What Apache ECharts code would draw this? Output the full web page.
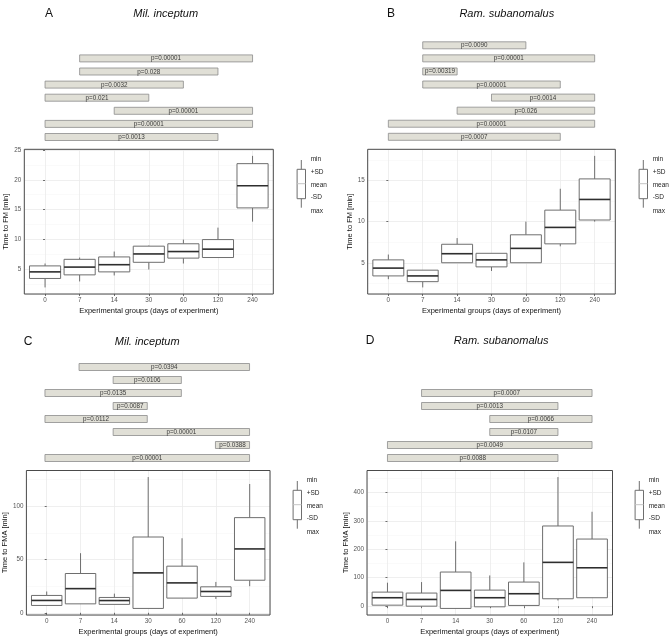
<!DOCTYPE html>
<html><head><meta charset="utf-8">
<script src="https://cdn.jsdelivr.net/npm/echarts@6/dist/echarts.min.js"></script>
<style>html,body{margin:0;padding:0;background:#fff}#c{width:672px;height:641px}</style>
</head><body><div id="c"></div>
<script>
const FONT = '"Liberation Sans", Arial, Helvetica, sans-serif';
const groups = ['0', '7', '14', '30', '60', '120', '240'];
const legendLabels = ['min', '+SD', 'mean', '-SD', 'max'];
const xTitle = 'Experimental groups (days of experiment)';

// Panel A — Mil. inceptum, time to FM [min]
const fmMilMin    = [2, 3, 4, 5, 6, 7, 13];
const fmMilSdLow  = [3.5, 4.1, 4.6, 6.2, 6.9, 7.0, 15.3];
const fmMilMean   = [4.6, 5.4, 5.8, 7.6, 8.0, 8.4, 19.0];
const fmMilSdHigh = [5.6, 6.7, 7.1, 8.9, 9.3, 10.0, 22.7];
const fmMilMax    = [6, 7, 8, 9, 10, 12, 24];
const sigAFrom = ['7', '7', '0', '0', '14', '0', '0'];
const sigATo   = ['240', '120', '60', '30', '240', '240', '120'];
const sigAP    = ['p=0.00001', 'p=0.028', 'p=0.0032', 'p=0.021', 'p=0.00001', 'p=0.00001', 'p=0.0013'];

// Panel B — Ram. subanomalus, time to FM [min]
const fmRamMin    = [3, 2, 5, 4, 5, 7, 10];
const fmRamSdLow  = [3.4, 2.7, 5.0, 4.5, 5.0, 7.3, 10.2];
const fmRamMean   = [4.35, 3.4, 6.1, 5.35, 6.75, 9.3, 12.7];
const fmRamSdHigh = [5.35, 4.1, 7.25, 6.15, 8.4, 11.4, 15.2];
const fmRamMax    = [6, 4.1, 8, 6.15, 10, 14, 18];
const sigBFrom = ['7', '7', '7', '7', '30', '14', '0', '0'];
const sigBTo   = ['60', '240', '14', '120', '240', '240', '240', '120'];
const sigBP    = ['p=0.0090', 'p=0.00001', 'p=0.00319', 'p=0.00001', 'p=0.0014', 'p=0.026', 'p=0.00001', 'p=0.0007'];

// Panel C — Mil. inceptum, time to FMA [min]
const fmaMilMin    = [6.9, 8.4, 7.9, 4.1, 13.8, 13, 25];
const fmaMilSdLow  = [6.9, 8.4, 7.9, 4.1, 13.8, 15.4, 30.6];
const fmaMilMean   = [11.6, 22.7, 11.5, 37.5, 28.1, 20, 60];
const fmaMilSdHigh = [16.3, 36.9, 14.4, 71.2, 43.8, 24.4, 89.4];
const fmaMilMax    = [20, 56, 18, 127.5, 70, 29, 121];
const sigCFrom = ['7', '14', '0', '14', '0', '14', '120', '0'];
const sigCTo   = ['240', '60', '60', '30', '30', '240', '240', '240'];
const sigCP    = ['p=0.0394', 'p=0.0106', 'p=0.0135', 'p=0.0087', 'p=0.0112', 'p=0.00001', 'p=0.0388', 'p=0.00001'];

// Panel D — Ram. subanomalus, time to FMA [min]
const fmaRamMin    = [3.5, 0, -8, -2.3, 2.5, 20, 29.6];
const fmaRamSdLow  = [3.5, 0, -8, -2.3, 2.5, 26, 29.6];
const fmaRamMean   = [29.6, 23.6, 55.4, 29.6, 43.7, 154, 135];
const fmaRamSdHigh = [49.4, 46, 120, 56.4, 84.7, 282, 236];
const fmaRamMax    = [82.5, 84.7, 228, 108, 154, 454, 332];
const sigDFrom = ['7', '7', '30', '30', '0', '0'];
const sigDTo   = ['240', '120', '240', '120', '240', '120'];
const sigDP    = ['p=0.0007', 'p=0.0013', 'p=0.0066', 'p=0.0107', 'p=0.0049', 'p=0.0088'];

const panels = [
  {letter: 'A', species: 'Mil. inceptum', yName: 'Time to FM [min]', split: 5, yGap: 10,
   mn: fmMilMin, lo: fmMilSdLow, mean: fmMilMean, hi: fmMilSdHigh, mx: fmMilMax,
   sf: sigAFrom, st: sigATo, sp: sigAP,
   grid: {left: 24.3, top: 149.3, width: 249, height: 144.7},
   sig: {left: 24.3, top: 45.3, width: 249, height: 91.7},
   letterXY: [49, 14], speciesXY: [165.7, 14], leg: [301.3, 160]},
  {letter: 'B', species: 'Ram. subanomalus', yName: 'Time to FM [min]', split: 4, yGap: 10.5,
   mn: fmRamMin, lo: fmRamSdLow, mean: fmRamMean, hi: fmRamSdHigh, mx: fmRamMax,
   sf: sigBFrom, st: sigBTo, sp: sigBP,
   grid: {left: 367.7, top: 149.3, width: 247.6, height: 144.7},
   sig: {left: 367.7, top: 45.3, width: 247.6, height: 91.5},
   letterXY: [391, 14], speciesXY: [506.8, 14], leg: [643.3, 160]},
  {letter: 'C', species: 'Mil. inceptum', yName: 'Time to FMA [min]', split: 3, yGap: 14.5,
   mn: fmaMilMin, lo: fmaMilSdLow, mean: fmaMilMean, hi: fmaMilSdHigh, mx: fmaMilMax,
   sf: sigCFrom, st: sigCTo, sp: sigCP,
   grid: {left: 24.5, top: 470.5, width: 245.5, height: 144.5},
   sig: {left: 24.5, top: 367, width: 245.5, height: 91},
   letterXY: [28, 341.7], speciesXY: [147.2, 341.7], leg: [297.3, 481]},
  {letter: 'D', species: 'Ram. subanomalus', yName: 'Time to FMA [min]', split: 5, yGap: 14,
   mn: fmaRamMin, lo: fmaRamSdLow, mean: fmaRamMean, hi: fmaRamSdHigh, mx: fmaRamMax,
   sf: sigDFrom, st: sigDTo, sp: sigDP,
   grid: {left: 367, top: 470.5, width: 245.5, height: 144.5},
   sig: {left: 367, top: 367, width: 245.5, height: 91},
   letterXY: [370, 340.7], speciesXY: [501.2, 340.7], leg: [639.3, 481]}
];

const grids = [], xAxes = [], yAxes = [], series = [], graphics = [];

function boxRender(params, api) {
  const x = api.value(0);
  const vMin = api.value(1), vLo = api.value(2), vMean = api.value(3), vHi = api.value(4), vMax = api.value(5);
  const c = api.coord([x, vMean]);
  const half = api.size([0.9, 0])[0] / 2;
  const yMin = api.coord([x, vMin])[1], yLo = api.coord([x, vLo])[1];
  const yHi = api.coord([x, vHi])[1], yMax = api.coord([x, vMax])[1];
  const stroke = {stroke: '#6e6e6e', lineWidth: 1, fill: null};
  const ch = [];
  if (vMax > vHi) ch.push({type: 'line', shape: {x1: c[0], y1: yHi, x2: c[0], y2: yMax}, style: stroke});
  if (vMin < vLo) ch.push({type: 'line', shape: {x1: c[0], y1: yLo, x2: c[0], y2: yMin}, style: stroke});
  ch.push({type: 'rect', shape: {x: c[0] - half, y: yHi, width: 2 * half, height: yLo - yHi},
           style: {fill: '#ffffff', stroke: '#6e6e6e', lineWidth: 1}});
  ch.push({type: 'line', shape: {x1: c[0] - half, y1: c[1], x2: c[0] + half, y2: c[1]},
           style: {stroke: '#2e2e2e', lineWidth: 1.6}});
  return {type: 'group', children: ch};
}

function sigRender(labels) {
  return function (params, api) {
    const lvl = api.value(2);
    const p0 = api.coord([api.value(0), lvl]);
    const p1 = api.coord([api.value(1), lvl]);
    const h = 7;
    return {type: 'group', children: [
      {type: 'rect', shape: {x: p0[0], y: p0[1] - h / 2, width: p1[0] - p0[0], height: h},
       style: {fill: '#e0dfd6', stroke: '#8c8c8c', lineWidth: 0.8}},
      {type: 'text', style: {text: labels[params.dataIndex], x: (p0[0] + p1[0]) / 2, y: p0[1] + 0.3,
       align: 'center', verticalAlign: 'middle', font: '6.3px ' + FONT, fill: '#3a3a3a'}}
    ]};
  };
}

panels.forEach((p, k) => {
  const gPlot = 2 * k, gSig = 2 * k + 1;
  grids.push(Object.assign({show: true, z: 3, backgroundColor: 'transparent', borderColor: '#4a4a4a', borderWidth: 1}, p.grid));
  grids.push(Object.assign({show: false}, p.sig));

  const lo = Math.min(...p.mn, ...p.lo), hi = Math.max(...p.mx, ...p.hi);
  const pad = (hi - lo) * 0.05;

  xAxes.push({type: 'value', gridIndex: gPlot, min: -0.6, max: 6.6, splitNumber: 7,
    name: xTitle, nameLocation: 'middle', nameGap: 13,
    nameTextStyle: {fontSize: 7.5, color: '#111', fontFamily: FONT},
    axisLine: {show: false},
    axisTick: {show: true, length: 2, lineStyle: {color: '#4a4a4a', width: 0.8}},
    axisLabel: {fontSize: 6.3, color: '#555', fontFamily: FONT, margin: 3.5, showMinLabel: false, showMaxLabel: false,
      formatter: v => (Math.abs(v - Math.round(v)) < 1e-6 && groups[Math.round(v)] !== undefined) ? groups[Math.round(v)] : ''},
    splitLine: {show: true, lineStyle: {color: '#ebebeb', width: 0.8}}});
  yAxes.push({type: 'value', gridIndex: gPlot, min: lo - pad, max: hi + pad, splitNumber: p.split,
    name: p.yName, nameLocation: 'middle', nameGap: p.yGap,
    nameTextStyle: {fontSize: 7.5, color: '#111', fontFamily: FONT},
    axisLine: {show: false},
    axisTick: {show: true, length: 2, lineStyle: {color: '#4a4a4a', width: 0.8}},
    axisLabel: {fontSize: 6.3, color: '#555', fontFamily: FONT, margin: 3, showMinLabel: false, showMaxLabel: false},
    splitLine: {show: true, lineStyle: {color: '#ebebeb', width: 0.8}},
    minorTick: {show: false, splitNumber: 2},
    minorSplitLine: {show: true, lineStyle: {color: '#f4f4f4', width: 0.5}}});
  xAxes.push({type: 'value', gridIndex: gSig, min: -0.6, max: 6.6, show: false});
  yAxes.push({type: 'value', gridIndex: gSig, min: 0, max: 7, show: false});

  series.push({type: 'custom', xAxisIndex: gPlot, yAxisIndex: gPlot, renderItem: boxRender, z: 2,
    data: groups.map((g, i) => [i, p.mn[i], p.lo[i], p.mean[i], p.hi[i], p.mx[i]]),
    encode: {x: 0, y: [1, 2, 3, 4, 5]}});
  const n = p.sf.length;
  series.push({type: 'custom', xAxisIndex: gSig, yAxisIndex: gSig, renderItem: sigRender(p.sp),
    data: p.sf.map((f, i) => [groups.indexOf(f), groups.indexOf(p.st[i]), n - 1 - i]),
    encode: {x: [0, 1], y: 2}});

  graphics.push({type: 'text', x: p.letterXY[0], y: p.letterXY[1],
    style: {text: p.letter, align: 'center', verticalAlign: 'middle', font: '12px ' + FONT, fill: '#111'}});
  graphics.push({type: 'text', x: p.speciesXY[0], y: p.speciesXY[1],
    style: {text: p.species, align: 'center', verticalAlign: 'middle', font: 'italic 11px ' + FONT, fill: '#111'}});

  const [x0, y0] = p.leg;
  graphics.push({type: 'line', shape: {x1: x0, y1: y0, x2: x0, y2: y0 + 47.7}, style: {stroke: '#6e6e6e', lineWidth: 1}});
  graphics.push({type: 'rect', shape: {x: x0 - 4.2, y: y0 + 9.3, width: 8.4, height: 29.4}, style: {fill: '#fff', stroke: '#6e6e6e', lineWidth: 1}});
  graphics.push({type: 'line', shape: {x1: x0 - 4.2, y1: y0 + 23.7, x2: x0 + 4.2, y2: y0 + 23.7}, style: {stroke: '#c4c4c4', lineWidth: 1}});
  const ly = [-0.7, 12.3, 25, 37.7, 51];
  legendLabels.forEach((t, j) => graphics.push({type: 'text', x: x0 + 9.4, y: y0 + ly[j],
    style: {text: t, align: 'left', verticalAlign: 'middle', font: '6.5px ' + FONT, fill: '#222'}}));
});

const chart = echarts.init(document.getElementById('c'), null, {renderer: 'canvas'});
chart.setOption({
  backgroundColor: '#ffffff',
  animation: false,
  grid: grids, xAxis: xAxes, yAxis: yAxes, series: series,
  graphic: {elements: graphics}
});
</script></body></html>
